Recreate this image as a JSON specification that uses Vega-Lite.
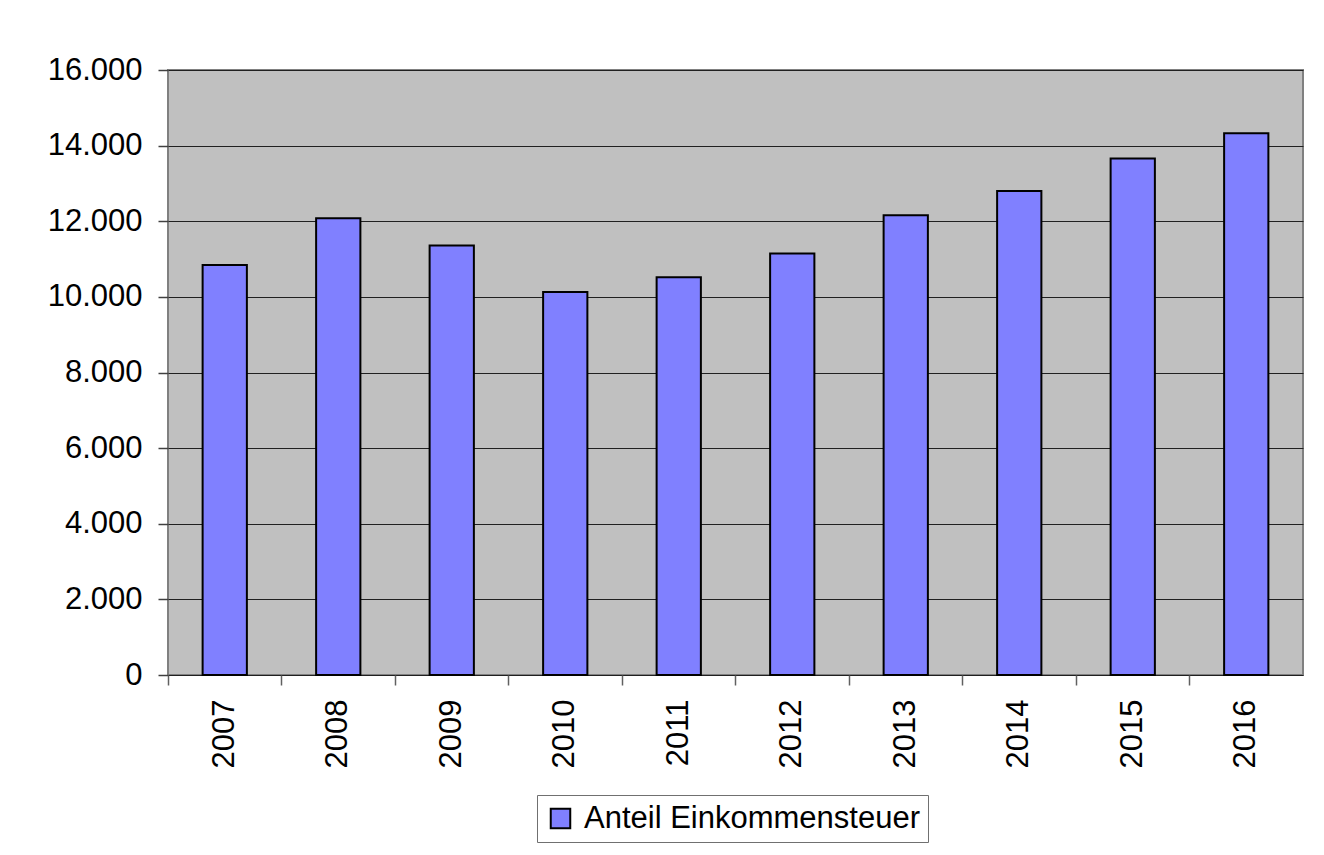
{
  "$schema": "https://vega.github.io/schema/vega-lite/v6.json",
  "width": 1135,
  "height": 605,
  "autosize": {"type": "none"},
  "padding": {"left": 168, "top": 70, "right": 21, "bottom": 180},
  "background": "white",
  "config": {
    "font": "Liberation Sans",
    "view": {"fill": "#C0C0C0", "stroke": "#808080", "strokeWidth": 2}
  },
  "data": {
    "values": [
      {"Jahr": "2007", "Wert": 10840},
      {"Jahr": "2008", "Wert": 12080},
      {"Jahr": "2009", "Wert": 11360},
      {"Jahr": "2010", "Wert": 10130},
      {"Jahr": "2011", "Wert": 10520},
      {"Jahr": "2012", "Wert": 11150},
      {"Jahr": "2013", "Wert": 12160},
      {"Jahr": "2014", "Wert": 12800},
      {"Jahr": "2015", "Wert": 13660},
      {"Jahr": "2016", "Wert": 14330}
    ]
  },
  "mark": {"type": "bar", "stroke": "black", "strokeWidth": 2, "width": {"band": 0.39}},
  "encoding": {
    "x": {
      "field": "Jahr",
      "type": "ordinal",
      "scale": {"paddingInner": 0, "paddingOuter": 0},
      "axis": {
        "title": null,
        "bandPosition": 0,
        "labelAngle": 270,
        "labelFontSize": 31,
        "labelColor": "black",
        "labelPadding": 14,
        "tickSize": 10,
        "tickColor": "#606060",
        "tickWidth": 1.5,
        "domain": false,
        "grid": false
      }
    },
    "y": {
      "field": "Wert",
      "type": "quantitative",
      "scale": {"domain": [0, 16000], "nice": false},
      "axis": {
        "title": null,
        "values": [0, 2000, 4000, 6000, 8000, 10000, 12000, 14000, 16000],
        "labelExpr": "replace(format(datum.value, ','), ',', '.')",
        "labelFontSize": 31,
        "labelColor": "black",
        "labelPadding": 16,
        "tickSize": 10,
        "tickColor": "#404040",
        "tickWidth": 1.5,
        "domain": false,
        "grid": true,
        "gridColor": "#202020",
        "gridWidth": 1.2,
        "gridOpacity": 1
      }
    },
    "color": {
      "datum": "Anteil Einkommensteuer",
      "type": "nominal",
      "scale": {"range": ["#8080FF"]},
      "legend": {
        "title": null,
        "orient": "none",
        "legendX": 369,
        "legendY": 725,
        "symbolType": "square",
        "symbolSize": 380,
        "symbolStrokeColor": "black",
        "symbolStrokeWidth": 2,
        "symbolFillColor": "#8080FF",
        "symbolOpacity": 1,
        "labelFontSize": 31,
        "labelColor": "black",
        "labelOffset": 8,
        "labelLimit": 600,
        "strokeColor": "#707070",
        "fillColor": "white",
        "padding": 8
      }
    }
  }
}
